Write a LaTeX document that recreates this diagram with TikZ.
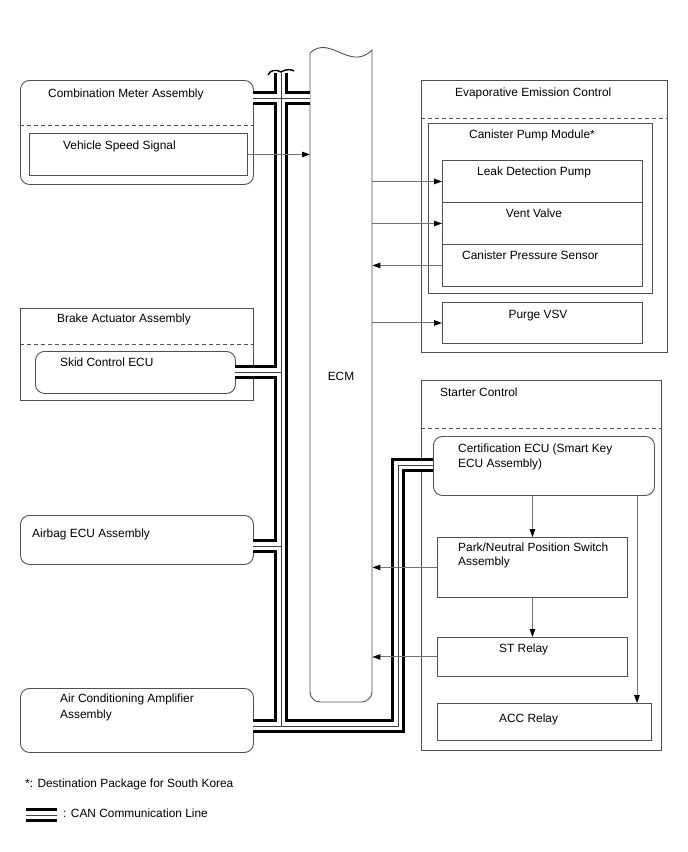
\documentclass[tikz,border=0pt]{standalone}
\usepackage{fontspec}
\setmainfont{Liberation Sans}
\usetikzlibrary{arrows.meta,calc}
\definecolor{linegray}{RGB}{80,80,80}
\definecolor{arrowgray}{RGB}{115,115,115}
\newcommand\canpaths[1]{%
  \draw[#1] (cmb) -- (ecmb);
  \draw[#1] (trtop) -- (trbot);
  \draw[#1] (skb) -- (skj);
  \draw[#1] (abb) -- (abj);
  \draw[#1] (acb) -- (cna) -- (cnb) -- (certb);
  \draw[#1] (lega) -- (legb);
}
\begin{document}
\begin{tikzpicture}[x=1pt,y=-1pt,
  font=\fontsize{11.9}{14}\selectfont,
  box/.style={draw=linegray, line width=0.9pt, inner sep=0pt, anchor=north west},
  rbox/.style={box, rounded corners=9pt},
  txt/.style={anchor=base west, inner sep=0pt, text=black},
  ctxt/.style={anchor=base, inner sep=0pt, text=black},
  arr/.style={draw=arrowgray, line width=1pt, -{Triangle[length=8pt,width=5.5pt,color=black]}},
  sepline/.style={draw=linegray, line width=0.8pt, dash pattern=on 4pt off 3pt},
  line join=miter]
\useasboundingbox (0,0) rectangle (688,852);

% ---------- boxes ----------
\node[rbox, minimum width=233pt, minimum height=104pt] (cm) at (20,80) {};
\node[box, minimum width=218pt, minimum height=42pt] (vss) at (29,133) {};
\node[box, minimum width=233pt, minimum height=92pt] (ba) at (20,308) {};
\node[rbox, minimum width=200pt, minimum height=42pt] (sk) at (35,351) {};
\node[rbox, minimum width=233pt, minimum height=49pt] (ab) at (20,515) {};
\node[rbox, minimum width=233pt, minimum height=64pt] (ac) at (20,688) {};

\node[box, minimum width=246pt, minimum height=272pt] (eec) at (421,80) {};
\node[box, minimum width=224pt, minimum height=170pt] (cpm) at (428,123) {};
\node[box, minimum width=200pt, minimum height=42pt] (ldp) at (442,160) {};
\node[box, minimum width=200pt, minimum height=42pt] (vv) at (442,202) {};
\node[box, minimum width=200pt, minimum height=42pt] (cps) at (442,244) {};
\node[box, minimum width=200pt, minimum height=41pt] (purge) at (442,302) {};

\node[box, minimum width=240pt, minimum height=370pt] (sc) at (421,380) {};
\node[rbox, minimum width=221pt, minimum height=59pt] (cert) at (433,436) {};
\node[box, minimum width=190pt, minimum height=60pt] (pn) at (437,537) {};
\node[box, minimum width=190pt, minimum height=39pt] (st) at (437,637) {};
\node[box, minimum width=214pt, minimum height=37pt] (acc) at (437,703) {};

% ECM
\node[inner sep=0pt, minimum width=62pt, minimum height=650pt, anchor=north west] (ecm) at (310,52) {};
\draw[linegray, line width=0.9pt] (310,53) .. controls (330,34) and (350,72) .. (372,50)
  -- (372,692) .. controls (372,697.5) and (366.5,702) .. (362,702)
  -- (320,702) .. controls (314.5,702) and (310,697.5) .. (310,692) -- cycle;

% dashed separators
\draw[sepline] (cm.west |- 0,125) -- (cm.east |- 0,125);
\draw[sepline] (ba.west |- 0,344) -- (ba.east |- 0,344);
\draw[sepline] (eec.west |- 0,118) -- (eec.east |- 0,118);
\draw[sepline] (sc.west |- 0,428) -- (sc.east |- 0,428);

% ---------- CAN bus ----------
\coordinate (cmb) at (253,98);
\coordinate (ecmb) at (310,98);
\coordinate (trtop) at (281,73);
\coordinate (trbot) at (281,726);
\coordinate (skb) at (235,372);
\coordinate (skj) at (281,372);
\coordinate (abb) at (253,546);
\coordinate (abj) at (281,546);
\coordinate (acb) at (253,726);
\coordinate (cna) at (398,726);
\coordinate (cnb) at (398,465);
\coordinate (certb) at (433,465);
\coordinate (lega) at (26,815);
\coordinate (legb) at (57,815);
\canpaths{black, line width=14.5pt}
\canpaths{white, line width=7.5pt}
\canpaths{black!75, line width=0.8pt}
% break mark on top of trunk
\draw[black, line width=1.4pt] (268,75) .. controls (270,70) and (276,69) .. (281,72)
  .. controls (286,69) and (291,69) .. (294,71);

% ---------- arrows ----------
\draw[arr] (vss.east) -- (ecm.west |- vss.east);
\draw[arr] (ecm.east |- ldp.west) -- (ldp.west);
\draw[arr] (ecm.east |- vv.west) -- (vv.west);
\draw[arr] (cps.west) -- (ecm.east |- cps.west);
\draw[arr] (ecm.east |- purge.west) -- (purge.west);
\draw[arr] (pn.west) -- (ecm.east |- pn.west);
\draw[arr] (st.west) -- (ecm.east |- st.west);
\draw[arr] (cert.south -| pn.north) -- (pn.north);
\draw[arr] (pn.south) -- (st.north);
\coordinate (acctop) at (637,703);
\draw[arr] (cert.south -| acctop) -- (acctop);

% ---------- texts ----------
\node[txt] (t1) at (48,97) {Combination Meter Assembly};
\node[txt] (t2) at (63,149) {Vehicle Speed Signal};
\node[txt] (t3) at (57,322) {Brake Actuator Assembly};
\node[txt] (t4) at (60,366) {Skid Control ECU};
\node[ctxt] (t5) at (341,380) {ECM};
\node[txt] (t6) at (32,537) {Airbag ECU Assembly};
\node[txt] (t7) at (60,702) {Air Conditioning Amplifier};
\node[txt] (t8) at (60,718) {Assembly};
\node[txt] (t9) at (455,96) {Evaporative Emission Control};
\node[txt] (t10) at (469,138) {Canister Pump Module*};
\node[txt] (t11) at (477,175) {Leak Detection Pump};
\node[ctxt] (t12) at (534,217) {Vent Valve};
\node[txt] (t13) at (462,259) {Canister Pressure Sensor};
\node[ctxt] (t14) at (538,318) {Purge VSV};
\node[txt] (t15) at (440,396) {Starter Control};
\node[txt] (t16) at (458,452) {Certification ECU (Smart Key};
\node[txt] (t17) at (458,467) {ECU Assembly)};
\node[txt] (t18) at (458,551) {Park/Neutral Position Switch};
\node[txt] (t19) at (458,565) {Assembly};
\node[txt] (t20) at (499,652) {ST Relay};
\node[txt] (t21) at (499,722) {ACC Relay};
\node[txt] (t22) at (25,787) {*: Destination Package for South Korea};
\node[txt] (t23) at (63,817) {: CAN Communication Line};
\end{tikzpicture}
\end{document}
